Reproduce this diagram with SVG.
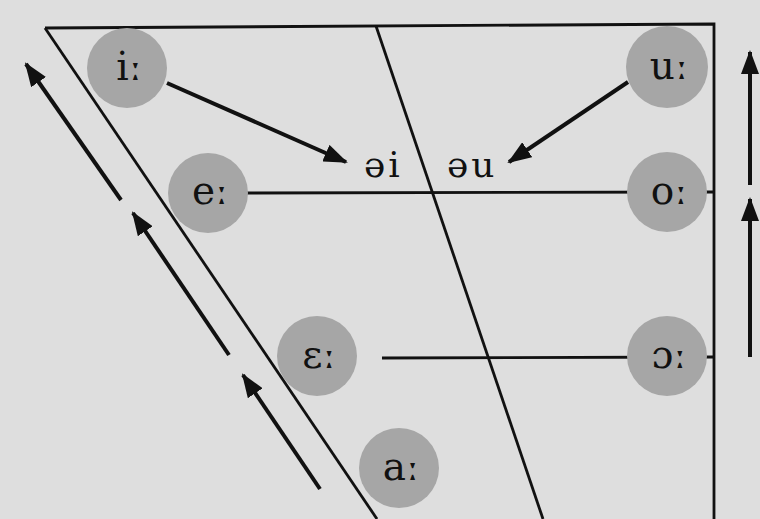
<svg xmlns="http://www.w3.org/2000/svg" width="760" height="519" viewBox="0 0 760 519">
<style>
.bg{fill:#dedede}
.ln{stroke:#111;stroke-width:2.8;fill:none}
.ar{stroke:#111;stroke-width:4;fill:none}
.c{fill:#a6a6a6}
.t{font-size:39px;fill:#111;text-anchor:middle}
.d{font-size:36px;fill:#111;letter-spacing:3px}
</style>
<defs>
<marker id="ah" markerWidth="6" markerHeight="4.5" refX="5.5" refY="2.25" orient="auto" markerUnits="strokeWidth">
<path d="M0,0 L6,2.25 L0,4.5 Z" fill="#111"/>
</marker>
</defs>
<rect class="bg" x="0" y="0" width="760" height="519"/>
<g id="chart">
<path class="ln" d="M45,28 L714,24 L714,519"/>
<path class="ln" d="M45,28 L377,519"/>
<path class="ln" d="M376,26 L543,519"/>
<path class="ln" d="M245,193 L714,192"/>
<path class="ln" d="M382,358 L714,357"/>
</g>
<g id="connectors">
<path class="ar" d="M167,83 L346,162" marker-end="url(#ah)"/>
<path class="ar" d="M628,82 L509,162" marker-end="url(#ah)"/>
<path class="ar" d="M121,200 L26,64" marker-end="url(#ah)"/>
<path class="ar" d="M229,355 L133,213" marker-end="url(#ah)"/>
<path class="ar" d="M320,489 L243,375" marker-end="url(#ah)"/>
<path class="ar" d="M750,185 L750,52" marker-end="url(#ah)"/>
<path class="ar" d="M750,357 L750,199" marker-end="url(#ah)"/>
</g>
<g font-family="DejaVu Serif, Liberation Serif, serif">
<g id="n-i"><circle class="c" cx="127" cy="68" r="40"/><text class="t" x="129" y="80">iː</text></g>
<g id="n-e"><circle class="c" cx="208" cy="193" r="40"/><text class="t" x="210" y="204">eː</text></g>
<g id="n-u"><circle class="c" cx="667" cy="67" r="41"/><text class="t" x="669" y="79">uː</text></g>
<g id="n-o"><circle class="c" cx="667" cy="192" r="40"/><text class="t" x="669" y="204">oː</text></g>
<g id="n-eps"><circle class="c" cx="317" cy="356" r="40"/><text class="t" x="319" y="368">ɛː</text></g>
<g id="n-oo"><circle class="c" cx="667" cy="356" r="40"/><text class="t" x="669" y="368">ɔː</text></g>
<g id="n-a"><circle class="c" cx="399" cy="468" r="40"/><text class="t" x="401" y="480">aː</text></g>
<g id="n-ei"><text class="d" x="364" y="177">əi</text></g>
<g id="n-eu"><text class="d" x="447" y="177">əu</text></g>
</g>
</svg>
